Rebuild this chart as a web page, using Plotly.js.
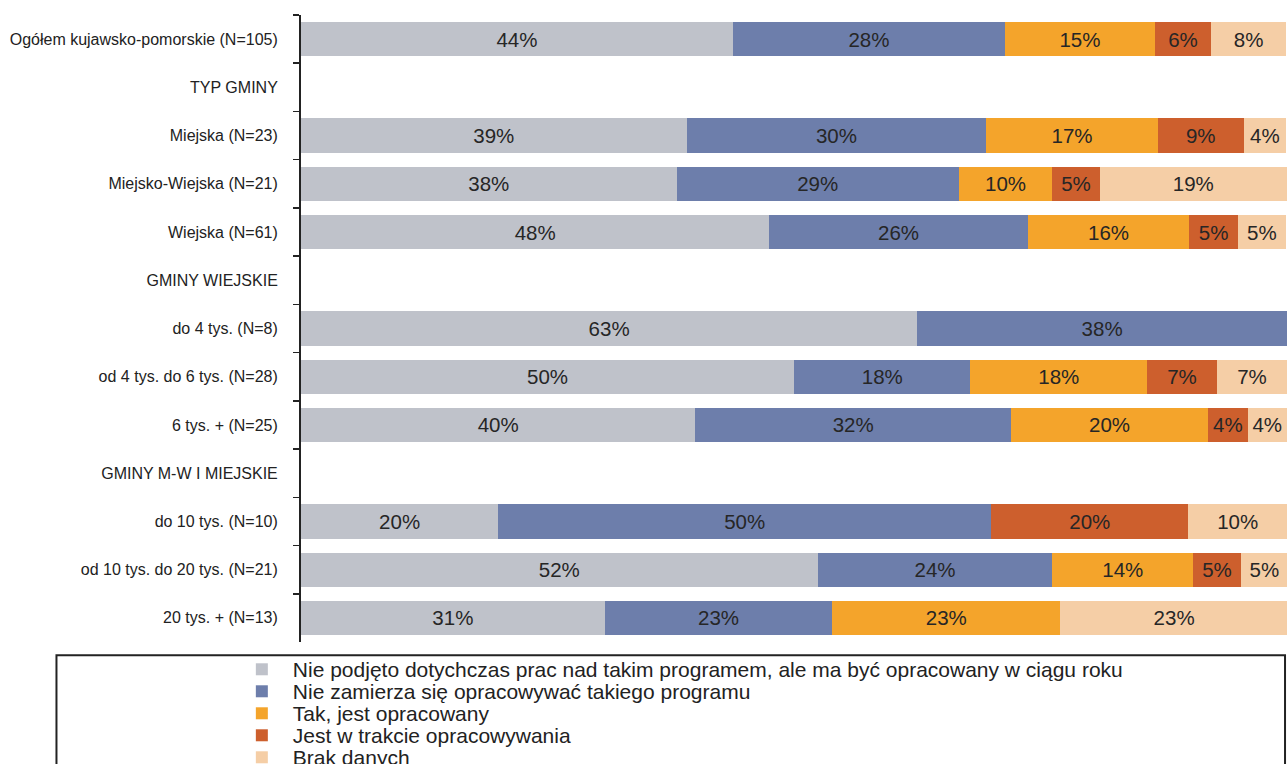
<!DOCTYPE html>
<html>
<head>
<meta charset="utf-8">
<script src="https://cdn.plot.ly/plotly-3.0.1.min.js"></script>
<style>html,body{margin:0;padding:0;background:#fff;}#chart{width:1287px;height:764px;}</style>
</head>
<body>
<div id="chart"></div>
<script>
const categories = [
  "Ogółem kujawsko-pomorskie (N=105)",
  "TYP GMINY",
  "Miejska (N=23)",
  "Miejsko-Wiejska (N=21)",
  "Wiejska (N=61)",
  "GMINY WIEJSKIE",
  "do 4 tys. (N=8)",
  "od 4 tys. do 6 tys. (N=28)",
  "6 tys. + (N=25)",
  "GMINY M-W I MIEJSKIE",
  "do 10 tys. (N=10)",
  "od 10 tys. do 20 tys. (N=21)",
  "20 tys. + (N=13)"
];
const seriesNames = [
  "Nie podjęto dotychczas prac nad takim programem, ale ma być opracowany w ciągu roku",
  "Nie zamierza się opracowywać takiego programu",
  "Tak, jest opracowany",
  "Jest w trakcie opracowywania",
  "Brak danych"
];
const niePodjeto   = [43.8, null, 39.1, 38.1, 47.5, null, 62.5, 50.0, 40.0, null, 20.0, 52.4, 30.8];
const nieZamierza  = [27.6, null, 30.4, 28.6, 26.2, null, 37.5, 17.9, 32.0, null, 50.0, 23.8, 23.1];
const takJest      = [15.2, null, 17.4,  9.5, 16.4, null, null, 17.9, 20.0, null, null, 14.3, 23.1];
const wTrakcie     = [ 5.7, null,  8.7,  4.8,  4.9, null, null,  7.1,  4.0, null, 20.0,  4.8, null];
const brakDanych   = [ 7.6, null,  4.3, 19.0,  4.9, null, null,  7.1,  4.0, null, 10.0,  4.8, 23.1];
const seriesValues = [niePodjeto, nieZamierza, takJest, wTrakcie, brakDanych];
const colors = ["#BFC2CA", "#6D7EAB", "#F4A42B", "#CD5F2D", "#F5CEA6"];

const FONT = "Liberation Sans, Arial, sans-serif";

const traces = seriesValues.map((vals, i) => ({
  type: "bar",
  orientation: "h",
  name: seriesNames[i],
  y: categories,
  x: vals,
  marker: {color: colors[i], line: {width: 0}},
  texttemplate: "%{x:.0f}%",
  textposition: "inside",
  insidetextanchor: "middle",
  textangle: 0,
  constraintext: "none",
  insidetextfont: {family: FONT, size: 20.5, color: "#262626"},
  hoverinfo: "skip"
}));

const layout = {
  width: 1287,
  height: 764,
  margin: {l: 301, r: 0, t: 15, b: 122, autoexpand: false},
  paper_bgcolor: "#ffffff",
  plot_bgcolor: "#ffffff",
  barmode: "stack",
  bargap: 0.29,
  showlegend: true,
  font: {family: FONT, color: "#222"},
  xaxis: {
    range: [0, 100],
    visible: false,
    fixedrange: true
  },
  yaxis: {
    type: "category",
    range: [12.5, -0.5],
    tickson: "boundaries",
    ticks: "outside",
    ticklen: 6,
    tickwidth: 1.5,
    tickcolor: "#222",
    showline: true,
    linecolor: "#222",
    linewidth: 2,
    showgrid: false,
    zeroline: false,
    ticklabelstandoff: 18,
    tickfont: {family: FONT, size: 16, color: "#222"},
    fixedrange: true
  },
  legend: {
    orientation: "v",
    traceorder: "normal",
    xref: "paper", yref: "paper",
    x: -0.06, xanchor: "left",
    y: -0.018, yanchor: "top",
    font: {family: FONT, size: 21, color: "#222"},
    bgcolor: "rgba(0,0,0,0)",
    borderwidth: 0,
    itemclick: false,
    itemdoubleclick: false
  },
  shapes: [{
    type: "rect",
    xref: "paper", yref: "paper",
    x0: -0.248, x1: 0.998,
    y0: -0.021, y1: -0.25,
    line: {color: "#222", width: 2},
    fillcolor: "rgba(0,0,0,0)"
  }]
};

Plotly.newPlot("chart", traces, layout, {staticPlot: true, displayModeBar: false}).then(() => {
  // remove legend clipping so shifted text is not cut
  document.querySelectorAll(".legend, .legend .scrollbox, .legend .groups").forEach(el => el.removeAttribute("clip-path"));
  // tighten legend row spacing and symbol-text gap to match the compact original legend
  const items = document.querySelectorAll(".legend .traces");
  items.forEach((g, i) => {
    const t = g.getAttribute("transform") || "";
    const m = t.match(/translate\(([-\d.]+)[ ,]+([-\d.]+)\)/);
    if (m) {
      const x = parseFloat(m[1]);
      g.setAttribute("transform", "translate(" + x + "," + (16 + i * 22) + ")");
    }
    const txt = g.querySelector(".legendtext");
    if (txt) {
      const tx = parseFloat(txt.getAttribute("x") || "0");
      txt.setAttribute("x", tx + 11);
      txt.querySelectorAll("tspan").forEach(ts => {
        if (ts.hasAttribute("x")) ts.setAttribute("x", parseFloat(ts.getAttribute("x")) + 11);
      });
    }
  });
});
</script>
</body>
</html>
